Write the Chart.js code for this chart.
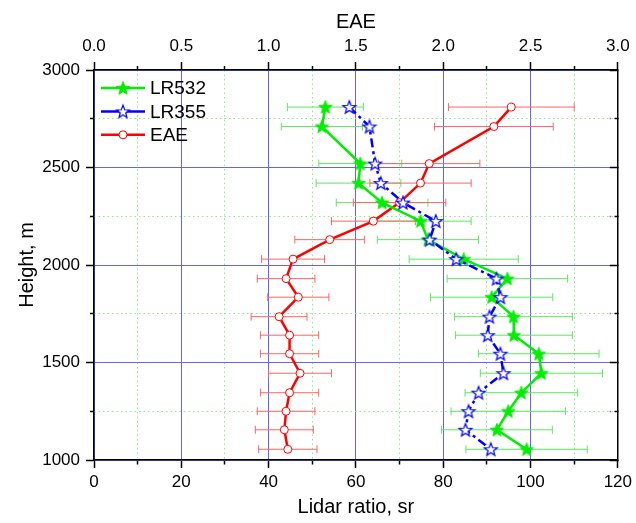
<!DOCTYPE html>
<html lang="en">
<head>
<meta charset="UTF-8">
<title>Lidar ratio and EAE profiles</title>
<script src="https://cdn.jsdelivr.net/npm/chart.js"></script>
<style>
  html, body { margin: 0; padding: 0; background: #fff; }
</style>
</head>
<body>
<canvas id="profile" width="636" height="523"></canvas>
<script>
// retrieval levels, m
const heights = [2810, 2710, 2520, 2420, 2320, 2225, 2130, 2030, 1930, 1835, 1735, 1640, 1545, 1445, 1345, 1250, 1155, 1055];

// lidar ratio at 532 nm, sr (with half-width of the error bar)
const lr532 = [53.0, 52.2, 61.0, 60.6, 66.0, 74.8, 76.5, 84.7, 94.7, 91.1, 96.1, 96.2, 101.9, 102.5, 97.9, 94.9, 92.3, 99.1];
const lr532Err = [8.7, 9.3, 9.5, 9.7, 10.5, 11.6, 11.6, 12.5, 13.8, 14.0, 13.5, 13.4, 13.8, 14.0, 12.9, 13.1, 12.7, 13.9];

// lidar ratio at 355 nm, sr
const lr355 = [58.5, 63.1, 64.4, 65.7, 70.8, 78.3, 76.9, 83.0, 92.2, 93.1, 90.6, 90.2, 93.1, 93.8, 88.1, 85.8, 85.1, 90.9];

// extinction angstrom exponent
const eae = [2.39, 2.29, 1.92, 1.87, 1.75, 1.60, 1.35, 1.14, 1.10, 1.17, 1.06, 1.12, 1.12, 1.18, 1.12, 1.10, 1.09, 1.11];
const eaeErr = [0.36, 0.34, 0.29, 0.29, 0.265, 0.24, 0.20, 0.18, 0.165, 0.175, 0.16, 0.167, 0.167, 0.18, 0.167, 0.165, 0.166, 0.167];

const FONT = 'Liberation Sans, Arial, sans-serif';
const black = '#000';
const majorBlue = '#6464f0';
const minorGreen = '#8fe88f';

function isMajor(v, step) {
  return Math.abs(v / step - Math.round(v / step)) < 1e-6;
}

// five-pointed star used as marker
function starImage(fill, stroke, r, lw) {
  const size = Math.ceil(2 * r + 2 * lw + 2);
  const c = document.createElement('canvas');
  c.width = size;
  c.height = size;
  const g = c.getContext('2d');
  const cx = size / 2, cy = size / 2 + r * 0.08;
  g.beginPath();
  for (let i = 0; i < 10; i++) {
    const rad = i % 2 ? r * 0.42 : r;
    const a = -Math.PI / 2 + i * Math.PI / 5;
    g.lineTo(cx + rad * Math.cos(a), cy + rad * Math.sin(a));
  }
  g.closePath();
  g.fillStyle = fill;
  g.fill();
  g.lineJoin = 'miter';
  g.lineWidth = lw;
  g.strokeStyle = stroke;
  g.stroke();
  return c;
}

const star532 = starImage('#00ee00', '#00ee00', 7, 1);
const star355 = starImage('#ffffff', '#0000ff', 6.8, 1.2);

// horizontal error bars, under the lines
const errorBars = {
  id: 'errorBars',
  beforeDatasetsDraw(chart) {
    const ctx = chart.ctx;
    chart.data.datasets.forEach(ds => {
      if (!ds.errors) return;
      const xs = chart.scales[ds.xAxisID];
      const ys = chart.scales[ds.yAxisID];
      ctx.save();
      ctx.strokeStyle = ds.errorColor;
      ctx.lineWidth = 1;
      ds.data.forEach((p, j) => {
        const xa = xs.getPixelForValue(p.x - ds.errors[j]);
        const xb = xs.getPixelForValue(p.x + ds.errors[j]);
        const y = ys.getPixelForValue(p.y);
        ctx.beginPath();
        ctx.moveTo(xa, y); ctx.lineTo(xb, y);
        ctx.moveTo(xa, y - 4); ctx.lineTo(xa, y + 4);
        ctx.moveTo(xb, y - 4); ctx.lineTo(xb, y + 4);
        ctx.stroke();
      });
      ctx.restore();
    });
  }
};

// legend box inside the plot, top left
const insideLegend = {
  id: 'insideLegend',
  afterDraw(chart) {
    const { ctx, chartArea } = chart;
    ctx.save();
    chart.data.datasets.forEach((ds, i) => {
      const y = chartArea.top + 18 + i * 23.4;
      const x0 = chartArea.left + 7, x1 = x0 + 44, xm = (x0 + x1) / 2;
      ctx.strokeStyle = ds.borderColor;
      ctx.lineWidth = ds.borderWidth;
      ctx.setLineDash([]);
      ctx.beginPath();
      ctx.moveTo(x0, y); ctx.lineTo(x1, y);
      ctx.stroke();
      if (typeof ds.pointStyle === 'object') {
        ctx.drawImage(ds.pointStyle, xm - ds.pointStyle.width / 2, y - ds.pointStyle.height / 2);
      } else {
        ctx.beginPath();
        ctx.arc(xm, y, ds.pointRadius, 0, Math.PI * 2);
        ctx.fillStyle = ds.pointBackgroundColor;
        ctx.fill();
        ctx.lineWidth = ds.pointBorderWidth;
        ctx.strokeStyle = ds.pointBorderColor;
        ctx.stroke();
      }
      ctx.fillStyle = black;
      ctx.font = '19px ' + FONT;
      ctx.textBaseline = 'middle';
      ctx.fillText(ds.label, x1 + 5, y + 1);
    });
    ctx.restore();
  }
};

const tickFont = { family: FONT, size: 17 };
const titleFont = { family: FONT, size: 20 };

const minorLr = [], minorH = [];
for (let v = 10; v < 120; v += 20) minorLr.push(v);
for (let v = 1250; v < 3000; v += 500) minorH.push(v);

const toPoints = (xs) => heights.map((h, i) => ({ x: xs[i], y: h }));

new Chart(document.getElementById('profile'), {
  type: 'scatter',
  data: {
    datasets: [
      {
        label: 'LR532',
        data: toPoints(lr532),
        xAxisID: 'x', yAxisID: 'y',
        showLine: true,
        borderColor: '#00ee00',
        backgroundColor: '#00ee00',
        borderWidth: 2.5,
        pointStyle: star532,
        pointRadius: 7,
        errors: lr532Err,
        errorColor: '#5ee85e',
        order: 1
      },
      {
        label: 'LR355',
        data: toPoints(lr355),
        xAxisID: 'x', yAxisID: 'y',
        showLine: true,
        borderColor: '#0000ff',
        backgroundColor: '#0000ff',
        borderWidth: 2.5,
        borderDash: [9, 4, 3, 4],
        pointStyle: star355,
        pointRadius: 7,
        order: 0
      },
      {
        label: 'EAE',
        data: toPoints(eae),
        xAxisID: 'x2', yAxisID: 'y',
        showLine: true,
        borderColor: '#ff0000',
        backgroundColor: '#ff0000',
        borderWidth: 2.5,
        pointStyle: 'circle',
        pointRadius: 4,
        pointBackgroundColor: '#ffffff',
        pointBorderColor: '#ff0000',
        pointBorderWidth: 1,
        errors: eaeErr,
        errorColor: '#ff6464',
        order: 2
      }
    ]
  },
  options: {
    responsive: false,
    animation: false,
    layout: { padding: 0 },
    plugins: { legend: { display: false }, tooltip: { enabled: false } },
    scales: {
      x: {
        type: 'linear', position: 'bottom', min: 0, max: 120,
        ticks: {
          stepSize: 10, autoSkip: false, maxRotation: 0, padding: 4, color: black, font: tickFont,
          callback: v => isMajor(v, 20) ? v : ''
        },
        grid: {
          color: c => isMajor(c.tick.value, 20) ? majorBlue : 'rgba(0,0,0,0)',
          lineWidth: 1, tickColor: black, tickLength: 8, tickWidth: 1.5,
          tickBorderDash: c => isMajor(c.tick.value, 20) ? [] : [4, 4],
          tickBorderDashOffset: 0
        },
        border: { color: black, width: 1.5 },
        title: { display: true, text: 'Lidar ratio, sr', color: black, font: titleFont, padding: { top: 0, bottom: 4 } },
        afterFit: s => { s.height = 63; }
      },
      xm: {
        type: 'linear', position: 'bottom', min: 0, max: 120,
        afterBuildTicks: s => { s.ticks = minorLr.map(v => ({ value: v })); },
        ticks: { display: false },
        grid: { color: minorGreen, lineWidth: 1, drawTicks: false },
        border: { display: false, dash: [1.5, 3] },
        afterFit: s => { s.height = 0; }
      },
      x2: {
        type: 'linear', position: 'top', min: 0, max: 3,
        ticks: {
          stepSize: 0.25, autoSkip: false, maxRotation: 0, padding: 5, color: black, font: tickFont,
          callback: v => isMajor(v, 0.5) ? v.toFixed(1) : ''
        },
        grid: {
          drawOnChartArea: false, tickColor: black, tickLength: 8, tickWidth: 1.5,
          tickBorderDash: c => isMajor(c.tick.value, 0.5) ? [] : [4, 4],
          tickBorderDashOffset: 4
        },
        border: { color: black, width: 1.5 },
        title: { display: true, text: 'EAE', color: black, font: titleFont, padding: { top: 10, bottom: 0 } },
        afterFit: s => { s.height = 70; }
      },
      y: {
        type: 'linear', position: 'left', min: 1000, max: 3000,
        ticks: {
          stepSize: 250, autoSkip: false, padding: 6, color: black, font: tickFont,
          callback: v => isMajor(v, 500) ? v : ''
        },
        grid: {
          color: c => isMajor(c.tick.value, 500) ? majorBlue : 'rgba(0,0,0,0)',
          lineWidth: 1, tickColor: black, tickLength: 8, tickWidth: 1.5,
          tickBorderDash: c => isMajor(c.tick.value, 500) ? [] : [4, 4],
          tickBorderDashOffset: 4
        },
        border: { color: black, width: 1.5 },
        title: { display: true, text: 'Height, m', color: black, font: titleFont, padding: { top: 15, bottom: 0 } },
        afterFit: s => { s.width = 94; }
      },
      ym: {
        type: 'linear', position: 'left', min: 1000, max: 3000,
        afterBuildTicks: s => { s.ticks = minorH.map(v => ({ value: v })); },
        ticks: { display: false },
        grid: { color: minorGreen, lineWidth: 1, drawTicks: false },
        border: { display: false, dash: [1.5, 3] },
        afterFit: s => { s.width = 0; }
      },
      yr: {
        type: 'linear', position: 'right', min: 1000, max: 3000,
        ticks: { display: false, stepSize: 250 },
        grid: {
          drawOnChartArea: false, tickColor: black, tickLength: -8, tickWidth: 1.5,
          tickBorderDash: c => isMajor(c.tick.value, 500) ? [] : [4, 4],
          tickBorderDashOffset: 0
        },
        border: { color: black, width: 1.5 },
        afterFit: s => { s.width = 15; }
      }
    }
  },
  plugins: [errorBars, insideLegend]
});
</script>
</body>
</html>
